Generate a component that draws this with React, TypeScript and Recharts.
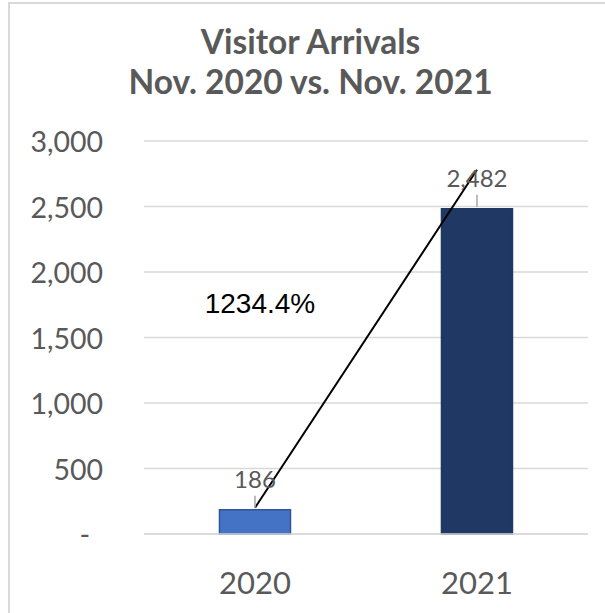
import { BarChart, Bar, XAxis, YAxis, CartesianGrid, Cell, LabelList, ReferenceLine, ReferenceDot } from 'recharts'

const years = ['2020', '2021']
const arrivals = [186, 2482]
const yTicks = [0, 500, 1000, 1500, 2000, 2500, 3000]
const barFills = ['#4472C4', '#203864']
const barStrokes = ['#2F5597', '#203864']
// trend arrow drawn in data terms (value at each end)
const arrowFrom = 200
const arrowTo = 2780

const growth = ((arrivals[1] - arrivals[0]) / arrivals[0]) * 100
const growthLabel = `${growth.toFixed(1)}%`

const data = years.map((year, i) => ({ year, arrivals: arrivals[i] }))

const FONT = 'Lato, "Open Sans", sans-serif'
const GREY = '#595959'

function YTick({ x, y, payload }: any) {
  const v = Number(payload.value)
  return (
    <text
      x={v === 0 ? x - 13 : x}
      y={y}
      textAnchor="end"
      dominantBaseline="central"
      fontSize={28.5}
      fontFamily={FONT}
      fill={GREY}
    >
      {v === 0 ? '-' : v.toLocaleString('en-US')}
    </text>
  )
}

function ValueLabel({ x, y, width, value }: any) {
  const cx = Number(x) + Number(width) / 2
  const top = Number(y)
  return (
    <g>
      <line x1={cx} x2={cx} y1={top - 14} y2={top - 2} stroke="#a6a6a6" strokeWidth={1.5} />
      <text
        x={cx}
        y={top - 31}
        textAnchor="middle"
        dominantBaseline="central"
        fontSize={24}
        fontFamily={FONT}
        fill={GREY}
      >
        {Number(value).toLocaleString('en-US')}
      </text>
    </g>
  )
}

function GrowthLabel({ viewBox }: any) {
  const cx = viewBox.x + viewBox.width / 2
  const cy = viewBox.y + viewBox.height / 2
  return (
    <text
      x={cx + 5}
      y={cy}
      textAnchor="middle"
      dominantBaseline="central"
      fontSize={28}
      fontFamily='"Liberation Sans", Arial, sans-serif'
      fill="#000"
    >
      {growthLabel}
    </text>
  )
}

export default function App() {
  return (
    <div style={{ position: 'absolute', left: 0, top: 0, width: 605, height: 613, background: '#fff', overflow: 'hidden' }}>
      <div
        style={{
          position: 'absolute',
          left: 8,
          top: 2,
          width: 620,
          height: 640,
          borderLeft: '2px solid #d9d9d9',
          borderTop: '2px solid #d9d9d9',
        }}
      />
      <div
        style={{
          position: 'absolute',
          left: 8,
          top: 21,
          width: 605,
          textAlign: 'center',
          fontFamily: FONT,
          fontWeight: 700,
          fontSize: 33.5,
          lineHeight: '40px',
          color: GREY,
        }}
      >
        Visitor Arrivals
        <br />
        Nov. 2020 vs. Nov. 2021
      </div>
      <div style={{ position: 'absolute', left: 0, top: 0 }}>
        <BarChart
          width={605}
          height={613}
          data={data}
          margin={{ top: 141, right: 17, bottom: 29, left: 0 }}
          barCategoryGap="34%"
        >
          <CartesianGrid vertical={false} stroke="#d9d9d9" strokeWidth={1.5} />
          <XAxis
            dataKey="year"
            height={50}
            axisLine={{ stroke: '#d9d9d9', strokeWidth: 1.5 }}
            tickLine={false}
            tickMargin={32}
            tick={{ fontSize: 31, fontFamily: FONT, fill: GREY }}
          />
          <YAxis
            width={144}
            domain={[0, 3000]}
            ticks={yTicks}
            axisLine={false}
            tickLine={false}
            tickMargin={35}
            tick={<YTick />}
          />
          <Bar dataKey="arrivals" isAnimationActive={false} strokeWidth={1.5}>
            {data.map((d, i) => (
              <Cell key={d.year} fill={barFills[i]} stroke={barStrokes[i]} />
            ))}
            <LabelList dataKey="arrivals" content={<ValueLabel />} />
          </Bar>
          <ReferenceLine
            segment={[
              { x: years[0], y: arrowFrom },
              { x: years[1], y: arrowTo },
            ]}
            stroke="#000"
            strokeWidth={2}
            ifOverflow="visible"
          />
          <ReferenceDot x={years[0]} y={1760} r={0} fill="none" stroke="none" label={<GrowthLabel />} />
        </BarChart>
      </div>
    </div>
  )
}
